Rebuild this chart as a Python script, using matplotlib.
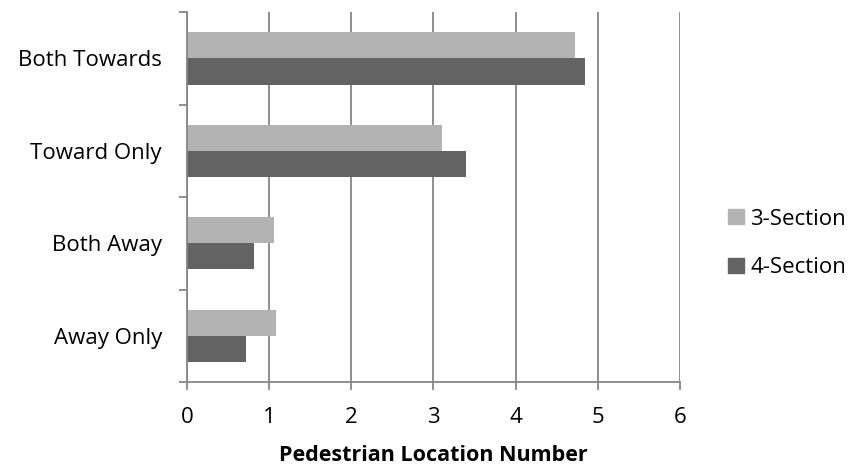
import matplotlib
matplotlib.use("Agg")
import matplotlib.pyplot as plt
import numpy as np
from matplotlib.patches import Patch

plt.rcParams['font.family'] = ['Open Sans', 'DejaVu Sans']

categories = ["Away Only", "Both Away", "Toward Only", "Both Towards"]
series_names = ["3-Section", "4-Section"]
three_section = [1.08, 1.06, 3.10, 4.72]
four_section = [0.72, 0.82, 3.40, 4.84]
xticks = [0, 1, 2, 3, 4, 5, 6]
xlabel = "Pedestrian Location Number"

c3 = "#b3b3b3"
c4 = "#636363"
gc = "#868686"
fs = 16

fig = plt.figure(figsize=(8.55, 4.69), dpi=100)
ax = fig.add_axes([0.2187, 0.1855, 0.5765, 0.7885])

y = np.arange(len(categories))
h = 0.283
ax.barh(y + h / 2, three_section, height=h, color=c3, zorder=3)
ax.barh(y - h / 2, four_section, height=h, color=c4, zorder=3)

ax.set_xlim(0, 6)
ax.set_ylim(-0.5, len(categories) - 0.5)
ax.set_xticks(xticks)
ax.set_xticklabels([str(t) for t in xticks], fontsize=fs)
ax.set_yticks(y)
ax.set_yticklabels(categories, fontsize=fs)
ax.tick_params(axis='y', length=0, pad=18)
ax.set_yticks(np.arange(-0.5, len(categories), 1), minor=True)
ax.tick_params(axis='y', which='minor', length=6, width=1.3, color=gc, direction='out')
ax.tick_params(axis='x', length=6, width=1.3, color=gc, direction='out', pad=12)

ax.grid(axis='x', color=gc, linewidth=1.3, zorder=0)
for s in ['top', 'right']:
    ax.spines[s].set_visible(False)
for s in ['left', 'bottom']:
    ax.spines[s].set_color(gc)
    ax.spines[s].set_linewidth(1.3)
    ax.spines[s].set_zorder(4)

ax.set_xlabel(xlabel, fontsize=15.5, fontweight='bold', labelpad=12)

handles = [Patch(color=c3), Patch(color=c4)]
fig.legend(handles, series_names, loc='center left', bbox_to_anchor=(0.852, 0.481),
           frameon=False, fontsize=fs, handlelength=0.68, handleheight=0.68,
           handletextpad=0.3, labelspacing=1.25, borderaxespad=0, borderpad=0)

fig.savefig("out.png", dpi=100)
